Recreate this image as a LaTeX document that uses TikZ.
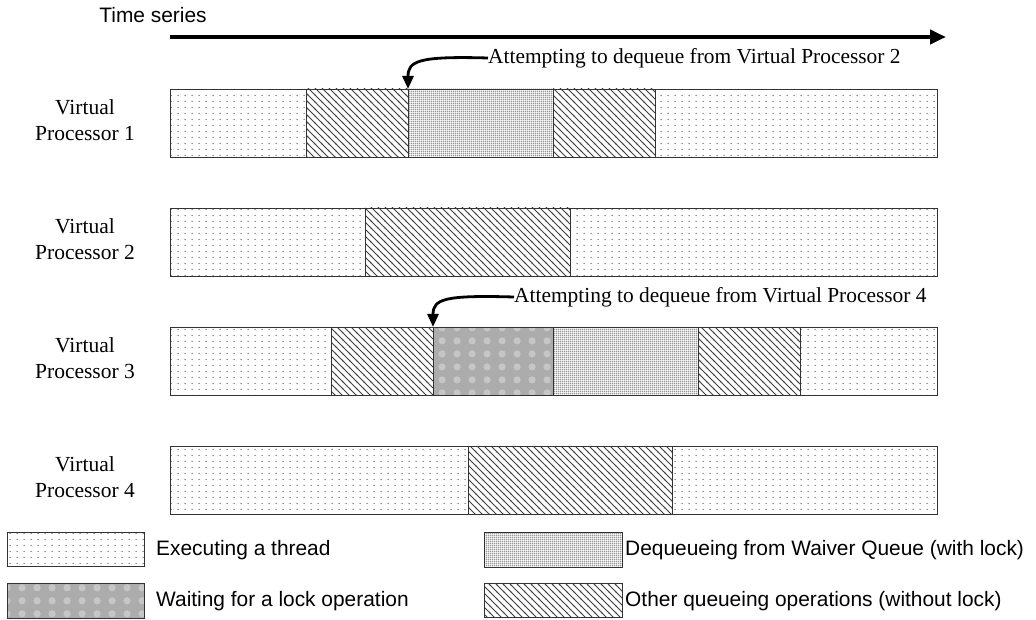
\documentclass[tikz,border=0pt]{standalone}
\usepackage{fontspec}
\setmainfont{Liberation Serif}
\newfontfamily\arial{Liberation Sans}
\usetikzlibrary{patterns,arrows.meta}
\pgfdeclarepatternformonly{execdots}{\pgfpointorigin}{\pgfpoint{7pt}{6pt}}{\pgfpoint{7pt}{6pt}}{%
  \pgfpathcircle{\pgfpoint{3.5pt}{3pt}}{0.7pt}\pgfusepath{fill}}
\pgfdeclarepatternformonly{deqdots}{\pgfpointorigin}{\pgfpoint{2.2pt}{2.2pt}}{\pgfpoint{2.2pt}{2.2pt}}{%
  \pgfpathcircle{\pgfpoint{1.1pt}{1.1pt}}{0.78pt}\pgfusepath{fill}}
\pgfdeclarepatternformonly{waitblobs}{\pgfpointorigin}{\pgfpoint{15pt}{13pt}}{\pgfpoint{15pt}{13pt}}{%
  \pgfpathcircle{\pgfpoint{7.5pt}{6.5pt}}{3.8pt}\pgfusepath{fill}}
\pgfdeclarepatternformonly{hatch}{\pgfpoint{-1pt}{-1pt}}{\pgfpoint{8pt}{8pt}}{\pgfpoint{7pt}{7pt}}{%
  \pgfsetlinewidth{0.8pt}\pgfpathmoveto{\pgfpoint{-1pt}{8pt}}\pgfpathlineto{\pgfpoint{8pt}{-1pt}}\pgfusepath{stroke}}
\tikzset{
  seg/.style={draw=black!80, line width=0.9pt, inner sep=0pt, outer sep=0pt, minimum height=68pt, anchor=north west},
  exec/.style={preaction={fill=white}, preaction={pattern=execdots, pattern color=black!75}},
  deq/.style={preaction={fill=white}, preaction={pattern=deqdots, pattern color=black!80}},
  wait/.style={preaction={fill=gray!65}, preaction={pattern=waitblobs, pattern color=gray!45}},
  hat/.style={preaction={fill=white}, preaction={pattern=hatch, pattern color=black!75}},
  lbl/.style={align=center, font=\fontsize{21.5}{25.5}\selectfont},
  ann/.style={anchor=west, inner sep=0pt, font=\fontsize{21.4}{25}\selectfont},
  leg/.style={anchor=west, inner sep=0pt, font=\arial\fontsize{20.9}{25}\selectfont},
  legbox/.style={draw=black!80, line width=0.9pt, inner sep=0pt, outer sep=0pt, minimum width=137pt, anchor=north west},
  pointer/.style={line width=2.8pt, -{Triangle[length=13pt,width=11pt]}},
}
\begin{document}
\begin{tikzpicture}[x=1pt,y=-1pt]
\useasboundingbox (0,0) rectangle (1036,620);
% time axis
\node[font=\arial\fontsize{20.9}{25}\selectfont] (ttl) at (153,15) {Time series};
\coordinate (ts) at (170,37);
\coordinate (te) at (946,37);
\draw[line width=4pt, -{Triangle[length=16pt,width=14pt]}] (ts) -- (te);
% row labels
\node[lbl] (l1) at (85,120) {Virtual\\Processor 1};
\node[lbl] (l2) at (85,239) {Virtual\\Processor 2};
\node[lbl] (l3) at (85,358) {Virtual\\Processor 3};
\node[lbl] (l4) at (85,477) {Virtual\\Processor 4};
% row 1
\node[seg,exec,minimum width=136pt] (r1a) at (170,89) {};
\node[seg,hat,minimum width=102pt] (r1b) at (306,89) {};
\node[seg,deq,minimum width=145pt] (r1c) at (408,89) {};
\node[seg,hat,minimum width=102pt] (r1d) at (553,89) {};
\node[seg,exec,minimum width=282pt] (r1e) at (655,89) {};
% row 2
\node[seg,exec,minimum width=195pt] (r2a) at (170,208) {};
\node[seg,hat,minimum width=205pt] (r2b) at (365,208) {};
\node[seg,exec,minimum width=367pt] (r2c) at (570,208) {};
% row 3
\node[seg,exec,minimum width=161pt] (r3a) at (170,327) {};
\node[seg,hat,minimum width=102pt] (r3b) at (331,327) {};
\node[seg,wait,minimum width=120pt] (r3c) at (433,327) {};
\node[seg,deq,minimum width=145pt] (r3d) at (553,327) {};
\node[seg,hat,minimum width=102pt] (r3e) at (698,327) {};
\node[seg,exec,minimum width=137pt] (r3f) at (800,327) {};
% row 4
\node[seg,exec,minimum width=298pt] (r4a) at (170,446) {};
\node[seg,hat,minimum width=204pt] (r4b) at (468,446) {};
\node[seg,exec,minimum width=265pt] (r4c) at (672,446) {};
% annotations
\node[ann] (a1) at (488,58) {Attempting to dequeue from Virtual Processor 2};
\node[ann] (a2) at (514,297) {Attempting to dequeue from Virtual Processor 4};
\draw[pointer] (a1.west) .. controls +(-70,-2) and +(0,-28) .. (r1c.north west);
\draw[pointer] (a2.west) .. controls +(-70,-2) and +(0,-28) .. (r3c.north west);
% legend
\node[legbox,exec,minimum height=34pt] (k1) at (7,532) {};
\node[leg] (t1) at (156,550) {Executing a thread};
\node[legbox,wait,minimum height=35pt] (k2) at (7,583) {};
\node[leg] (t2) at (156,601) {Waiting for a lock operation};
\node[legbox,deq,minimum height=35pt,minimum width=138pt] (k3) at (484,532) {};
\node[leg] (t3) at (625,550) {Dequeueing from Waiver Queue (with lock)};
\node[legbox,hat,minimum height=34pt,minimum width=138pt] (k4) at (484,583) {};
\node[leg] (t4) at (625,601) {Other queueing operations (without lock)};
\end{tikzpicture}
\end{document}
